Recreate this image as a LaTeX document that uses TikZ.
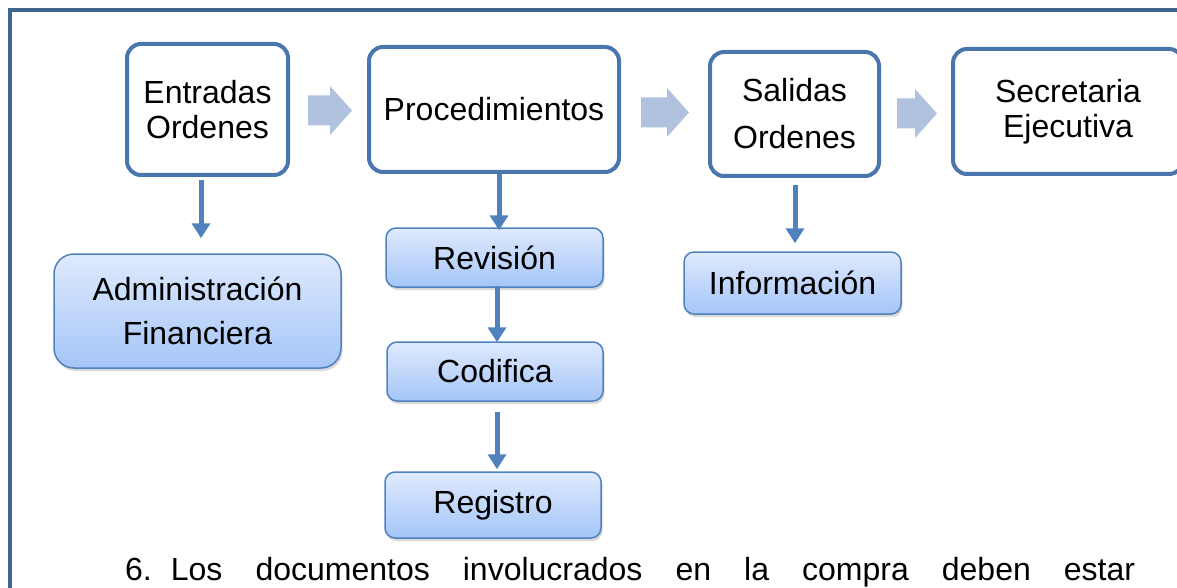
\documentclass[tikz,border=0pt]{standalone}
\usepackage{fontspec}
\setmainfont{Liberation Sans}
\usetikzlibrary{arrows.meta,shadows}

\definecolor{marco}{RGB}{65,100,145}
\definecolor{bordeazul}{RGB}{74,118,174}
\definecolor{bordesub}{RGB}{79,129,189}
\definecolor{lineazul}{RGB}{79,129,189}
\definecolor{chevron}{RGB}{176,194,222}
\definecolor{subarriba}{RGB}{223,234,253}
\definecolor{subabajo}{RGB}{164,197,248}

\tikzset{
  caja/.style={draw=bordeazul, line width=4pt, rounded corners=14pt, fill=white,
    align=center, inner sep=0pt, font=\fontsize{32}{35}\selectfont},
  subcaja/.style={draw=bordesub, line width=1.5pt, rounded corners=10pt,
    top color=subarriba, bottom color=subabajo,
    drop shadow={opacity=0.3, shadow xshift=1.5pt, shadow yshift=-3pt},
    align=center, inner sep=0pt, font=\fontsize{32}{35}\selectfont},
  conector/.style={draw=lineazul, line width=5pt, -{Triangle[width=18pt,length=15pt]}},
  pics/flecha/.style={code={
    \fill[chevron] (0,-15) -- (#1-22,-15) -- (#1-22,-24.5) -- (#1,0)
      -- (#1-22,24.5) -- (#1-22,15) -- (0,15) -- cycle;}}
}

\begin{document}
\begin{tikzpicture}[x=1pt,y=-1pt]
\useasboundingbox (0,0) rectangle (1177,588);

% Frame of the page
\draw[marco, line width=4pt] (10,10) rectangle (1200,620);

% Main row
\node[caja, minimum width=161pt, minimum height=131pt] (entradas) at (207.5,109.5) {Entradas\\Ordenes};
\node[caja, minimum width=250pt, minimum height=125pt] (proced) at (494,109.5) {Procedimientos};
\node[caja, minimum width=169pt, minimum height=124pt] (salidas) at (794.5,114) {Salidas\\[12pt]Ordenes};
\node[caja, minimum width=230pt, minimum height=125pt] (secret) at (1068,111.5) {Secretaria\\Ejecutiva};

% Block arrows between the main boxes
\pic (f1) at (308,110.5) {flecha=44};
\pic (f2) at (641,112.5) {flecha=48};
\pic (f3) at (897,113.5) {flecha=40};

% Sub boxes
\node[subcaja, rounded corners=20pt, minimum width=287pt, minimum height=114pt] (admin) at (197.5,311) {Administración\\[9pt]Financiera};
\node[subcaja, minimum width=217pt, minimum height=59pt] (revision) at (494.5,257.5) {Revisión};
\node[subcaja, minimum width=216pt, minimum height=59pt] (codifica) at (495,371.5) {Codifica};
\node[subcaja, minimum width=216pt, minimum height=66pt] (registro) at (493,505) {Registro};
\node[subcaja, minimum width=217pt, minimum height=62pt] (informacion) at (792.5,283) {Información};

% Connectors
\draw[conector, shorten <=3pt, shorten >=15pt] ([xshift=-6.5pt]entradas.south) -- ([xshift=-6.5pt]entradas.south |- admin.north);
\draw[conector, shorten >=-3pt] ([xshift=5pt]proced.south) -- ([xshift=5pt]proced.south |- revision.north);
\draw[conector, shorten <=-2pt, shorten >=-1pt] ([xshift=2.5pt]revision.south) -- ([xshift=2.5pt]revision.south |- codifica.north);
\draw[conector, shorten <=10pt, shorten >=2pt] ([xshift=2pt]codifica.south) -- ([xshift=2pt]codifica.south |- registro.north);
\draw[conector, shorten <=7pt, shorten >=8pt] ([xshift=0.5pt]salidas.south) -- ([xshift=0.5pt]salidas.south |- informacion.north);

% Text below the diagram
\node[anchor=base west, inner sep=0pt, font=\fontsize{32}{38}\selectfont] (parrafo) at (125,580)
  {\makebox[1010pt][s]{6.\hspace{19pt}Los documentos involucrados en la compra deben estar}};
\end{tikzpicture}
\end{document}
